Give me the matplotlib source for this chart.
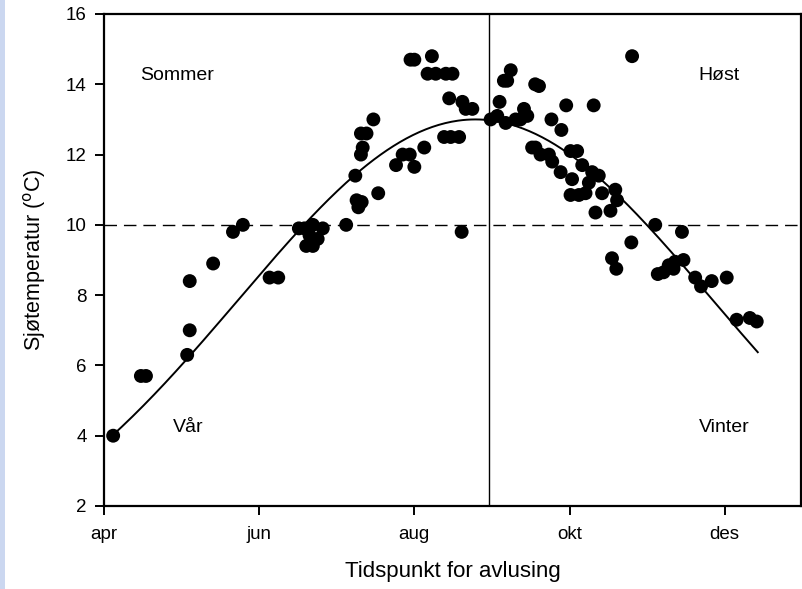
import numpy as np
import matplotlib
matplotlib.use("Agg")
import matplotlib.pyplot as plt
from matplotlib.patches import Rectangle

plt.rcParams['font.family'] = ['Liberation Sans', 'DejaVu Sans']

# Sampling dates (day of year) and measured sea temperature (deg C)
spring_summer_day = [94.6, 105.5, 107.5, 123.7, 124.7, 124.7, 133.9, 141.7, 145.6,
                     156.1, 159.5, 167.6, 169.8, 173.1, 177.0, 171.8, 175.0, 170.5,
                     173.1, 186.2, 190.3, 192.3, 191.0, 198.8, 189.8, 192.0, 192.7,
                     192.0, 194.2, 196.9, 205.8, 208.4, 211.2, 213.0, 216.9, 211.5,
                     213.0, 219.9, 218.2, 221.4, 225.4, 228.0, 226.7, 231.9, 233.2,
                     235.8, 224.7, 227.3, 230.6, 231.6]
spring_summer_temp = [4.0, 5.7, 5.7, 6.3, 7.0, 8.4, 8.9, 9.8, 10.0,
                      8.5, 8.5, 9.9, 9.9, 10.0, 9.9, 9.7, 9.6, 9.4,
                      9.4, 10.0, 10.7, 10.65, 10.5, 10.9, 11.4, 12.0, 12.2,
                      12.6, 12.6, 13.0, 11.7, 12.0, 12.0, 11.65, 12.2, 14.7,
                      14.7, 14.8, 14.3, 14.3, 14.3, 14.3, 13.6, 13.5, 13.3,
                      13.3, 12.5, 12.5, 12.5, 9.8]

autumn_winter_day = [243.0, 245.6, 248.9, 252.8, 254.7, 256.1, 257.4, 246.5, 248.2,
                     249.5, 250.9, 260.5, 262.0, 272.7, 283.5, 298.6, 266.9, 270.8,
                     259.3, 260.6, 262.6, 265.9, 267.2, 270.5, 274.4, 277.0, 279.0,
                     275.0, 282.9, 285.5, 281.6, 274.4, 277.7, 280.3, 286.8, 292.0,
                     292.7, 290.1, 284.2, 298.3, 290.7, 292.4, 307.7, 318.2, 308.7,
                     311.0, 313.0, 315.5, 318.8, 314.9, 323.4, 325.7, 329.9, 335.8,
                     339.7, 344.9, 347.6]
autumn_winter_temp = [13.0, 13.1, 12.9, 13.0, 13.0, 13.3, 13.1, 13.5, 14.1,
                      14.1, 14.4, 14.0, 13.95, 13.4, 13.4, 14.8, 13.0, 12.7,
                      12.2, 12.2, 12.0, 12.0, 11.8, 11.5, 12.1, 12.1, 11.7,
                      11.3, 11.5, 11.4, 11.2, 10.85, 10.85, 10.9, 10.9, 11.0,
                      10.7, 10.4, 10.35, 9.5, 9.05, 8.75, 10.0, 9.8, 8.6,
                      8.65, 8.85, 8.95, 9.0, 8.75, 8.5, 8.25, 8.4, 8.5,
                      7.3, 7.35, 7.25]

# Seasonal (Gaussian) regression curve parameters
fit_peak = 13.0
fit_center = 237.0
fit_width = 93.0
fit_start, fit_end = 94.6, 348.0

month_ticks = [91, 152, 213, 274, 335]
month_labels = ['apr', 'jun', 'aug', 'okt', 'des']
temp_ticks = [2, 4, 6, 8, 10, 12, 14, 16]

season_split_day = 242.5
threshold_temp = 10.0

fig = plt.figure(figsize=(8.02, 5.89), dpi=100)
fig.patches.append(Rectangle((0, 0), 5 / 802, 1, transform=fig.transFigure,
                             facecolor='#cbd7f0', edgecolor='none', zorder=0))

ax = fig.add_axes([104 / 802, 1 - 506 / 589, (801 - 104) / 802, (506 - 14) / 589])

days = np.concatenate([spring_summer_day, autumn_winter_day])
temps = np.concatenate([spring_summer_temp, autumn_winter_temp])
ax.scatter(days, temps, s=100, c='black', edgecolors='none', zorder=3)

xs = np.linspace(fit_start, fit_end, 300)
ax.plot(xs, fit_peak * np.exp(-(xs - fit_center) ** 2 / (2 * fit_width ** 2)),
        color='black', lw=1.4, zorder=2)

ax.axhline(threshold_temp, color='black', lw=1.0, dashes=(9, 5), zorder=1)
ax.axvline(season_split_day, color='black', lw=1.0, zorder=1)

ax.set_xlim(91, 365)
ax.set_ylim(2, 16)
ax.set_xticks(month_ticks)
ax.set_xticklabels(month_labels)
ax.set_yticks(temp_ticks)
ax.tick_params(direction='out', length=6.5, width=1.4, labelsize=13.5, pad=6)
ax.tick_params(axis='x', pad=8)
for sp in ax.spines.values():
    sp.set_linewidth(1.6)

ax.set_xlabel('Tidspunkt for avlusing', fontsize=16, labelpad=13)
ax.set_ylabel('Sjøtemperatur ($^{\\rm o}$C)', fontsize=15.5, labelpad=13)

season_fs = 14
ax.text(105.1, 14.25, 'Sommer', fontsize=season_fs, va='center', ha='left')
ax.text(324.7, 14.25, 'Høst', fontsize=season_fs, va='center', ha='left')
ax.text(118.0, 4.22, 'Vår', fontsize=season_fs, va='center', ha='left')
ax.text(324.7, 4.22, 'Vinter', fontsize=season_fs, va='center', ha='left')

fig.savefig('out.png', dpi=100)
